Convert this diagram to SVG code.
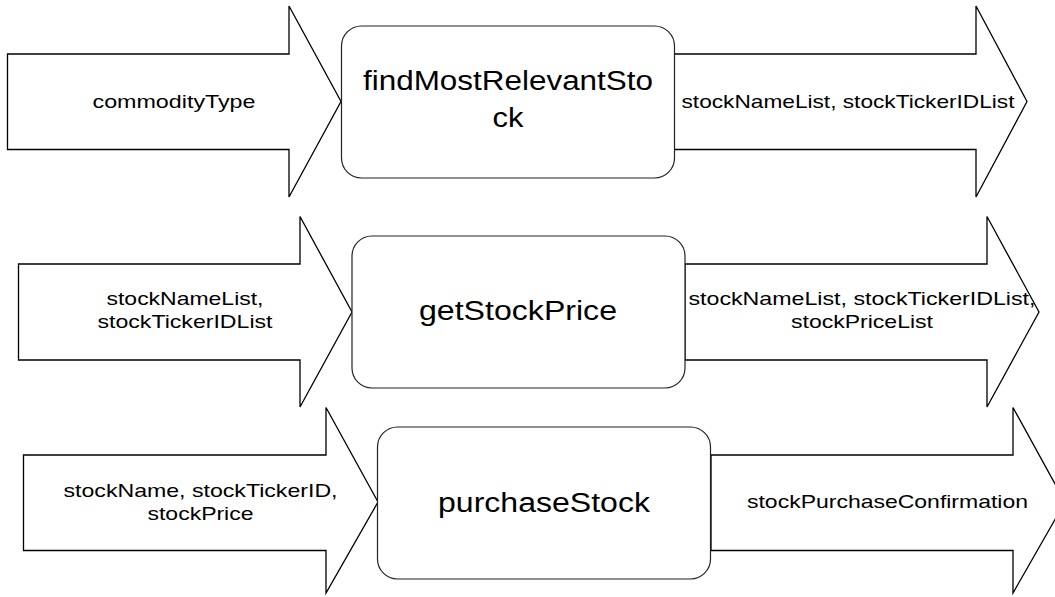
<svg xmlns="http://www.w3.org/2000/svg" width="1055" height="597" viewBox="0 0 1055 597">
<style>
.arr{fill:#fff;stroke:#000;stroke-width:1.3;stroke-linejoin:miter}
.box{fill:#fff;stroke:#222;stroke-width:1.2}
.s{font-family:"Liberation Sans",Arial,sans-serif;font-size:19px;fill:#000;text-anchor:middle}
.b{font-family:"Liberation Sans",Arial,sans-serif;font-size:27px;fill:#000;text-anchor:middle}
</style>
<rect width="1055" height="597" fill="#fff"/>
<g id="connectors">
  <g id="in1">
    <polygon class="arr" points="7.5,54 289,54 289,6 341,101.5 289,197 289,149.5 7.5,149.5"/>
    <text class="s" x="174" y="108" textLength="163" lengthAdjust="spacingAndGlyphs">commodityType</text>
  </g>
  <g id="out1">
    <polygon class="arr" points="674,54 976,54 976,6 1027,101.5 976,197 976,149.5 674,149.5"/>
    <text class="s" x="848" y="108" textLength="333" lengthAdjust="spacingAndGlyphs">stockNameList, stockTickerIDList</text>
  </g>
  <g id="in2">
    <polygon class="arr" points="18.5,264 300,264 300,216.5 352,312 300,407 300,360 18.5,360"/>
    <text class="s" x="185" y="305" textLength="157" lengthAdjust="spacingAndGlyphs">stockNameList,</text>
    <text class="s" x="185" y="328" textLength="175" lengthAdjust="spacingAndGlyphs">stockTickerIDList</text>
  </g>
  <g id="out2">
    <polygon class="arr" points="685,264 987,264 987,216.5 1039,312 987,407 987,360 685,360"/>
    <text class="s" x="862" y="305" textLength="347" lengthAdjust="spacingAndGlyphs">stockNameList, stockTickerIDList,</text>
    <text class="s" x="862" y="328" textLength="142" lengthAdjust="spacingAndGlyphs">stockPriceList</text>
  </g>
  <g id="in3">
    <polygon class="arr" points="23.5,455 326,455 326,407.5 378,502 326,593 326,550.5 23.5,550.5"/>
    <text class="s" x="200.5" y="497" textLength="274" lengthAdjust="spacingAndGlyphs">stockName, stockTickerID,</text>
    <text class="s" x="200.5" y="520" textLength="106" lengthAdjust="spacingAndGlyphs">stockPrice</text>
  </g>
  <g id="out3">
    <polygon class="arr" points="711,455 1013,455 1013,407.5 1065,502 1013,593 1013,550.5 711,550.5"/>
    <text class="s" x="887.5" y="508" textLength="281" lengthAdjust="spacingAndGlyphs">stockPurchaseConfirmation</text>
  </g>
</g>
<g id="findMostRelevantStock">
  <rect class="box" x="341.5" y="26" width="333" height="152" rx="20" ry="20"/>
  <text class="b" x="508" y="90" textLength="290" lengthAdjust="spacingAndGlyphs">findMostRelevantSto</text>
  <text class="b" x="508" y="127" textLength="31" lengthAdjust="spacingAndGlyphs">ck</text>
</g>
<g id="getStockPrice">
  <rect class="box" x="352" y="236" width="333" height="152" rx="20" ry="20"/>
  <text class="b" x="518" y="320" textLength="198" lengthAdjust="spacingAndGlyphs">getStockPrice</text>
</g>
<g id="purchaseStock">
  <rect class="box" x="377.5" y="427" width="333" height="152" rx="20" ry="20"/>
  <text class="b" x="544" y="512" textLength="212" lengthAdjust="spacingAndGlyphs">purchaseStock</text>
</g>
</svg>
